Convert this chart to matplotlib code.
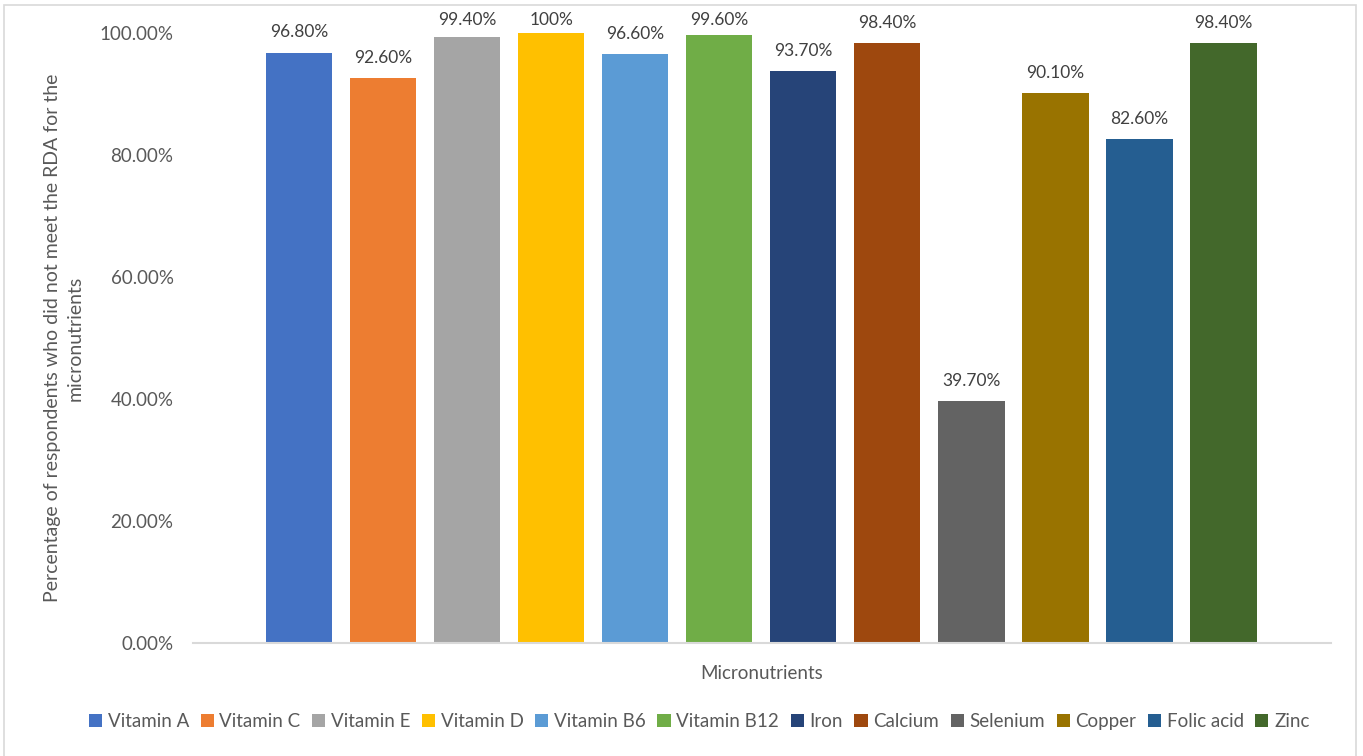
import numpy as np
import matplotlib.pyplot as plt
from matplotlib.patches import Rectangle

plt.rcParams['font.family'] = ['Lato', 'DejaVu Sans']

# 微量栄養素ごとの RDA 未達成者の割合
nutrients = ['Vitamin A', 'Vitamin C', 'Vitamin E', 'Vitamin D', 'Vitamin B6', 'Vitamin B12',
             'Iron', 'Calcium', 'Selenium', 'Copper', 'Folic acid', 'Zinc']
percent = [96.8, 92.6, 99.4, 100.0, 96.6, 99.6, 93.7, 98.4, 39.7, 90.1, 82.6, 98.4]
value_labels = ['96.80%', '92.60%', '99.40%', '100%', '96.60%', '99.60%',
                '93.70%', '98.40%', '39.70%', '90.10%', '82.60%', '98.40%']
colors = ['#4472C4', '#ED7D31', '#A5A5A5', '#FFC000', '#5B9BD5', '#70AD47',
          '#264478', '#9E480E', '#636363', '#997300', '#255E91', '#43682B']
yticks = [0, 20, 40, 60, 80, 100]

fig = plt.figure(figsize=(13.63, 7.56), dpi=100)
ax = fig.add_axes([0.1416, 0.1495, 0.835, 0.8068])

x = np.arange(len(nutrients))
bars = []
for i in range(len(nutrients)):
    b = ax.bar(x[i], percent[i], width=0.79, color=colors[i], label=nutrients[i])
    bars.append(b)
    # ラベルは棒の上、ただし上端を超えないように抑える
    ly = min(percent[i] + 3.3, 102.1)
    ax.text(x[i], ly, value_labels[i], ha='center', va='center', fontsize=12.5,
            color='#404040', clip_on=False)

ax.set_xlim(-1.26, 12.28)
ax.set_ylim(0, 100)
ax.set_yticks(yticks)
ax.set_yticklabels(['%.2f%%' % v for v in yticks], fontsize=13.5, color='#595959')
ax.set_xticks([])
ax.tick_params(axis='y', length=0, pad=14)

for s in ['top', 'right', 'left']:
    ax.spines[s].set_visible(False)
ax.spines['bottom'].set_color('#D9D9D9')
ax.spines['bottom'].set_linewidth(1.5)

ax.set_xlabel('Micronutrients', fontsize=13.5, color='#595959', labelpad=16)
ax.set_ylabel('Percentage of respondents who did not meet the RDA for the\nmicronutrients',
              fontsize=14, color='#595959', linespacing=1.4)
ax.yaxis.set_label_coords(-0.096, 0.5)

fig.legend(handles=[b[0] for b in bars], labels=nutrients, loc='center', ncol=12,
           bbox_to_anchor=(0.513, 0.045), frameon=False, fontsize=13.5, labelcolor='#595959',
           handlelength=0.7, handleheight=0.7, handletextpad=0.3, columnspacing=0.62)

# 外枠
fig.patches.append(Rectangle((0.003, -0.01), 0.992, 1.003, transform=fig.transFigure,
                             fill=False, edgecolor='#D9D9D9', linewidth=1.2))

fig.savefig('out.png', dpi=100)
